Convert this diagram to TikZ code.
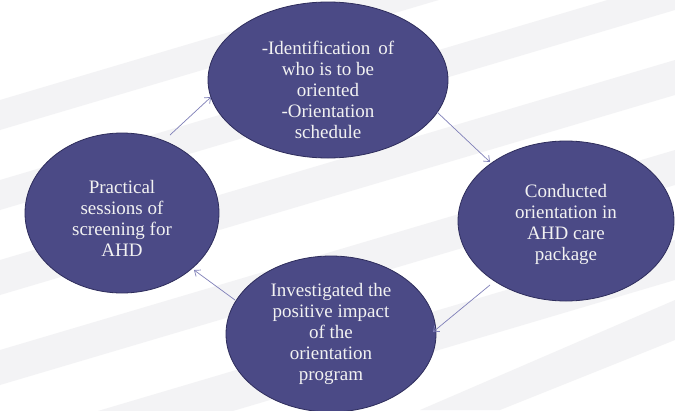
\documentclass[tikz,border=0pt]{standalone}
\usepackage{fontspec}
\setmainfont{Liberation Serif}
\usetikzlibrary{shapes.geometric,arrows.meta}
\definecolor{ellfill}{HTML}{4B4A86}
\definecolor{elldraw}{HTML}{2E2D5C}
\definecolor{arrowc}{HTML}{7F7FB8}
\definecolor{txt}{HTML}{F2F2F2}
\definecolor{stripe}{HTML}{F3F3F5}
\tikzset{
  bubble/.style={ellipse, draw=elldraw, line width=0.8pt, fill=ellfill, inner sep=0pt},
  btext/.style={text=txt, align=center, font=\fontsize{19}{21}\selectfont},
  flow/.style={draw=arrowc, line width=0.7pt, -{Straight Barb[length=5pt,width=8pt]}}
}
\begin{document}
\begin{tikzpicture}[x=1pt,y=-1pt]
\useasboundingbox (0,0) rectangle (675,410);
\fill[white] (0,0) rectangle (675,410);
% faint background rays
\foreach \a/\b in {40/70,120/150,200/235,290/325,380/420}{
  \fill[stripe] (0,\a+60) -- (675,\a-140) -- (675,\b-140) -- (0,\b+60) -- cycle;
}
\fill[stripe] (420,410) -- (675,300) -- (675,340) -- (500,410) -- cycle;
% ellipses
\node[bubble, minimum width=240pt, minimum height=156pt] (top) at (328,80) {};
\node[bubble, minimum width=216pt, minimum height=160pt] (right) at (566,221) {};
\node[bubble, minimum width=194pt, minimum height=160pt] (left) at (122,213) {};
\node[bubble, minimum width=210pt, minimum height=156pt] (bottom) at (331,334) {};
% texts
\node[btext] (ttop) at (328,90) {-Identification\, of\\who is to be\\oriented\\-Orientation\\schedule};
\node[btext] (tright) at (566,224) {Conducted\\orientation in\\AHD care\\package};
\node[btext] (tleft) at (122,218) {Practical\\sessions of\\screening for\\AHD};
\node[btext] (tbottom) at (331,334) {Investigated the\\positive impact\\of the\\orientation\\program};
% connectors
\coordinate (a1) at (170,135); \coordinate (a2) at (211,97);
\coordinate (b1) at (437,112); \coordinate (b2) at (490,162);
\coordinate (c1) at (490,285); \coordinate (c2) at (433,332);
\coordinate (d1) at (235,300); \coordinate (d2) at (194,270);
\draw[flow] (a1) -- (a2);
\draw[flow] (b1) -- (b2);
\draw[flow] (c1) -- (c2);
\draw[flow] (d1) -- (d2);
\end{tikzpicture}
\end{document}
